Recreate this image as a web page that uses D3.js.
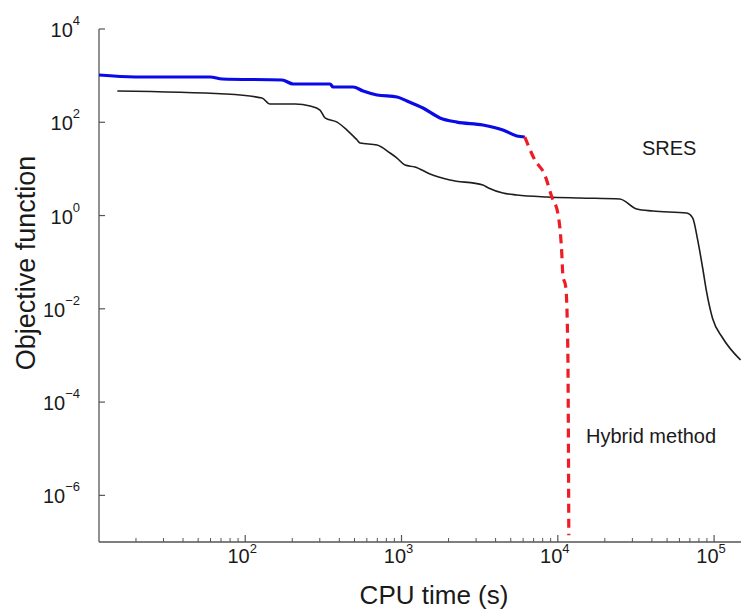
<!DOCTYPE html>
<html>
<head>
<meta charset="utf-8">
<script src="https://cdn.jsdelivr.net/npm/d3@7"></script>
<style>
body { margin: 0; background: #fff; }
text { font-family: "Liberation Sans", Arial, Helvetica, sans-serif; fill: #1a1a1a; }
</style>
</head>
<body>
<svg id="chart" width="741" height="610"></svg>
<script>
// SRES run (black)
const sresTime = [15.2, 74.5, 128, 144, 209, 260, 301, 324, 387, 448, 520, 543, 697, 845, 936, 1053, 1219, 1521, 2040, 3318, 3600, 4453, 5470, 8510, 13830, 24900, 32000, 40500, 66700, 72900, 78500, 84500, 89600, 97800, 113200, 147600];
const sresValue = [469, 404, 332, 247, 247, 223, 183, 124, 101, 68, 41.7, 36, 32.6, 21.9, 17.1, 12.1, 11, 7.8, 5.8, 4.5, 3.9, 3.05, 2.76, 2.5, 2.38, 2.27, 1.38, 1.25, 1.13, 0.89, 0.30, 0.075, 0.0228, 0.0062, 0.0024, 0.0008];

// hybrid method, global phase (blue)
const globalTime = [11.6, 19.8, 59.7, 71.3, 172, 203, 349, 365, 490, 568, 697, 936, 1084, 1372, 1762, 2263, 3318, 4453, 5470, 6150];
const globalValue = [1032, 935, 935, 848, 807, 662, 662, 570, 570, 469, 385, 349, 286, 202, 124, 101, 87.5, 68.3, 50.8, 48.3];

// hybrid method, local phase (red dashed)
const localTime = [6150, 7130, 8260, 9160, 10000, 10600, 10770, 11250, 11590, 11760];
const localValue = [48.3, 15.5, 7.41, 2.5, 1.13, 0.157, 0.053, 0.029, 0.00131, 1.4e-7];

const xTickExps = [2, 3, 4, 5];
const yTickExps = [4, 2, 0, -2, -4, -6];

const svg = d3.select('#chart');
const mLeft = 99, mRight = 746, mTop = 29, mBottom = 542;

const x = d3.scaleLog().domain([11.6, 1.6e5]).range([mLeft, mRight]);
const y = d3.scaleLog().domain([1e-7, 1e4]).range([mBottom, mTop]);

svg.append('defs').append('clipPath').attr('id', 'plot')
	.append('rect').attr('x', mLeft).attr('y', mTop).attr('width', mRight - mLeft).attr('height', mBottom - mTop);

// minor x ticks 2..9 x 10^k
const xMinor = [];
for (let k = 1; k <= 5; k++) {
	for (let m = 2; m <= 9; m++) {
		const v = m * Math.pow(10, k);
		if (v >= x.domain()[0] && v <= x.domain()[1]) xMinor.push(v);
	}
}

const axisColor = '#555';

// x axis
const gx = svg.append('g').attr('transform', 'translate(0,' + mBottom + ')');
gx.append('line').attr('x1', mLeft).attr('x2', 741).attr('stroke', axisColor).attr('stroke-width', 1.3);
gx.selectAll('.minor').data(xMinor).enter().append('line')
	.attr('x1', d => x(d)).attr('x2', d => x(d))
	.attr('y1', 0).attr('y2', -4)
	.attr('stroke', axisColor).attr('stroke-width', 1);
gx.selectAll('.major').data(xTickExps).enter().append('line')
	.attr('x1', d => x(Math.pow(10, d))).attr('x2', d => x(Math.pow(10, d)))
	.attr('y1', 0).attr('y2', -7)
	.attr('stroke', axisColor).attr('stroke-width', 1.2);
const xl = gx.selectAll('.lab').data(xTickExps).enter().append('text')
	.attr('x', d => x(Math.pow(10, d)) - 3)
	.attr('y', 21)
	.attr('text-anchor', 'middle')
	.style('font-size', '20px');
xl.append('tspan').text('10');
xl.append('tspan').attr('dy', -10).style('font-size', '13px').text(d => d);

// y axis
const gy = svg.append('g').attr('transform', 'translate(' + mLeft + ',0)');
gy.append('line').attr('y1', mTop).attr('y2', mBottom).attr('stroke', axisColor).attr('stroke-width', 1.3);
gy.selectAll('.major').data(yTickExps).enter().append('line')
	.attr('y1', d => y(Math.pow(10, d))).attr('y2', d => y(Math.pow(10, d)))
	.attr('x1', 0).attr('x2', 6)
	.attr('stroke', axisColor).attr('stroke-width', 1.2);
const yl = gy.selectAll('.lab').data(yTickExps).enter().append('text')
	.attr('x', -19)
	.attr('y', d => y(Math.pow(10, d)) + 8)
	.attr('text-anchor', 'end')
	.style('font-size', '20px');
yl.append('tspan').text('10');
yl.append('tspan').attr('dy', -12).style('font-size', '13px').text(d => d < 0 ? '\u2212' + (-d) : d);

// lines
const line = d3.line().x(d => x(d[0])).y(d => y(d[1])).curve(d3.curveMonotoneX);
const plot = svg.append('g').attr('clip-path', 'url(#plot)');

plot.append('path')
	.datum(d3.zip(sresTime, sresValue))
	.attr('fill', 'none').attr('stroke', '#1e1e1e').attr('stroke-width', 1.6)
	.attr('stroke-linejoin', 'round')
	.attr('d', line);

plot.append('path')
	.datum(d3.zip(globalTime, globalValue))
	.attr('fill', 'none').attr('stroke', '#0a0ae6').attr('stroke-width', 3.2)
	.attr('stroke-linejoin', 'round')
	.attr('d', line);

plot.append('path')
	.datum(d3.zip(localTime, localValue))
	.attr('fill', 'none').attr('stroke', '#ee1c24').attr('stroke-width', 3.2)
	.attr('stroke-dasharray', '9,6')
	.attr('d', line);

// annotations
svg.append('text').attr('x', 642).attr('y', 155).style('font-size', '20px').text('SRES');
svg.append('text').attr('x', 586).attr('y', 443).style('font-size', '20px').text('Hybrid method');

// axis titles
svg.append('text').attr('x', 434).attr('y', 604).attr('text-anchor', 'middle')
	.style('font-size', '26px').text('CPU time (s)');
svg.append('text').attr('transform', 'translate(35,263) rotate(-90)').attr('text-anchor', 'middle')
	.style('font-size', '27px').text('Objective function');
</script>
</body>
</html>
